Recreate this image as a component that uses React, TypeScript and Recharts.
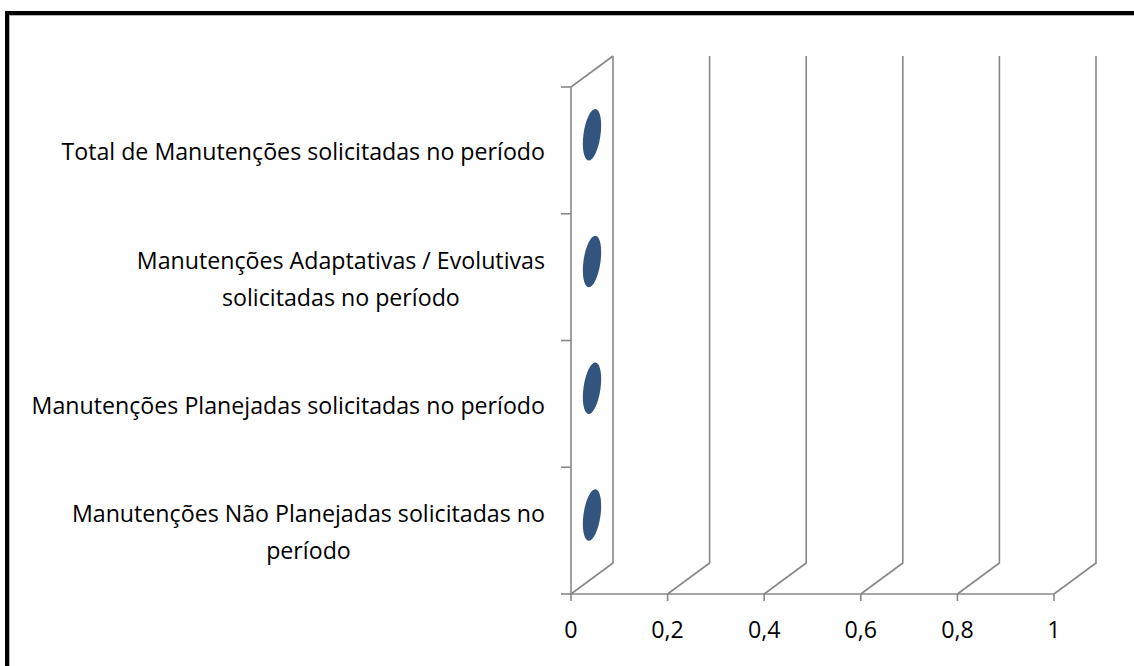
import React from 'react'
import { BarChart, Bar, XAxis, YAxis, CartesianGrid } from 'recharts'

const categories = [
  'Total de Manutenções solicitadas no período',
  'Manutenções Adaptativas / Evolutivas\nsolicitadas no período',
  'Manutenções Planejadas solicitadas no período',
  'Manutenções Não Planejadas solicitadas no\nperíodo',
]
const values = [0, 0, 0, 0]
const xTicks = [0, 0.2, 0.4, 0.6, 0.8, 1]

const data = categories.map((name, i) => ({ name, value: values[i] }))

const W = 1134
const H = 666
const PLOT_LEFT = 571
const PLOT_TOP = 87
const PLOT_BOTTOM = 594
const DX = 42
const DY = 31
const GRID = '#888888'
const FONT = '"Open Sans"'
const FONT_SIZE = 23.2
const LINE_H = 37
const LABEL_RIGHT = 545

let ctx: CanvasRenderingContext2D | null = null
function textWidth(s: string) {
  if (!ctx) ctx = document.createElement('canvas').getContext('2d')
  if (!ctx) return s.length * FONT_SIZE * 0.5
  ctx.font = `${FONT_SIZE}px ${FONT}`
  return ctx.measureText(s).width
}

const band = (PLOT_BOTTOM - PLOT_TOP) / categories.length

function CategoryTick(props: any) {
  const { y, payload, index } = props
  const lines = String(payload.value).split('\n')
  const maxW = Math.max(...lines.map(textWidth))
  const cx = LABEL_RIGHT - maxW / 2
  const startY = y - ((lines.length - 1) * LINE_H) / 2 + 1
  return (
    <g>
      <line x1={PLOT_LEFT - 10} x2={PLOT_LEFT} y1={y - band / 2} y2={y - band / 2} stroke={GRID} strokeWidth={1.6} />
      {index === categories.length - 1 && (
        <line x1={PLOT_LEFT - 10} x2={PLOT_LEFT} y1={y + band / 2} y2={y + band / 2} stroke={GRID} strokeWidth={1.6} />
      )}
      <text x={cx} y={startY} textAnchor="middle" dominantBaseline="central" fill="#000" fontSize={FONT_SIZE} fontFamily={FONT}>
        {lines.map((l, i) => (
          <tspan key={i} x={cx} y={startY + i * LINE_H}>{l}</tspan>
        ))}
      </text>
    </g>
  )
}

function GridLine(props: any) {
  const { x1, y1, y2 } = props
  let d = `M${x1},${y2} L${x1 + DX},${y2 - DY} L${x1 + DX},${y1 - DY}`
  if (Math.abs(x1 - PLOT_LEFT) < 1) d += ` M${x1},${y1} L${x1 + DX},${y1 - DY}`
  return <path key={`g-${x1}`} d={d} stroke={GRID} strokeWidth={1.6} fill="none" />
}

function Disc(props: any) {
  const { x, y, height } = props
  const cx = x + DX / 2
  const cy = y + height / 2 - DY / 2
  return <ellipse cx={cx} cy={cy} rx={8.5} ry={26} fill="#32547f" transform={`rotate(8 ${cx} ${cy})`} />
}

export default function App() {
  return (
    <div style={{ position: 'fixed', left: 0, top: 0, width: W, height: H, overflow: 'hidden', background: '#fff', fontFamily: FONT }}>
      <div style={{ position: 'absolute', left: 5, top: 11, width: W + 20, height: H + 20, border: '4px solid #000', boxShadow: 'inset 1px 1px 0 #b4b4b4' }} />
      <div style={{ position: 'absolute', left: 0, top: 0 }}>
        <BarChart width={W} height={H} data={data} layout="vertical" margin={{ top: PLOT_TOP, right: 80, bottom: 0, left: 0 }}>
          <CartesianGrid horizontal={false} vertical={GridLine} />
          <XAxis
            type="number"
            domain={[0, 1]}
            ticks={xTicks}
            height={H - PLOT_BOTTOM}
            axisLine={{ stroke: GRID, strokeWidth: 1.6 }}
            tickLine={{ stroke: GRID, strokeWidth: 1.6 }}
            tickSize={7}
            tickMargin={21}
            tick={{ fill: '#000', fontSize: FONT_SIZE, fontFamily: FONT }}
            tickFormatter={(v: number) => String(v).replace('.', ',')}
            interval={0}
          />
          <YAxis
            type="category"
            dataKey="name"
            width={PLOT_LEFT}
            axisLine={{ stroke: GRID, strokeWidth: 1.6 }}
            tickLine={false}
            tick={<CategoryTick />}
            interval={0}
          />
          <Bar dataKey="value" isAnimationActive={false} shape={<Disc />} />
        </BarChart>
      </div>
    </div>
  )
}
